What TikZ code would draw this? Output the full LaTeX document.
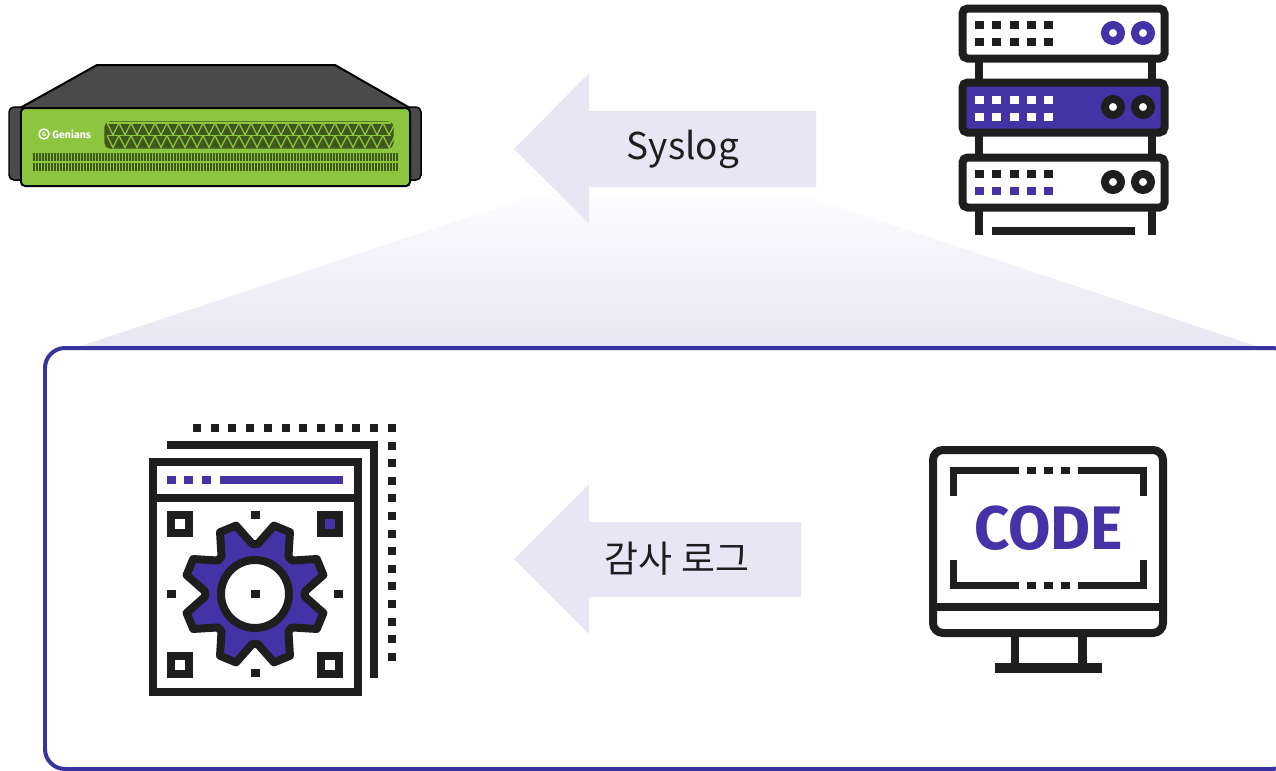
\documentclass[tikz,border=0pt]{standalone}
\usepackage{fontspec}
\setmainfont{Noto Sans CJK KR}
\newfontfamily\codefont{Fira Sans}
\usetikzlibrary{arrows.meta}

\definecolor{iconink}{HTML}{1E1E1E}
\definecolor{iconviolet}{HTML}{4433A6}
\definecolor{framebl}{HTML}{37349F}
\definecolor{arrowfill}{HTML}{E8E6F4}
\definecolor{casegreen}{HTML}{8CC63F}
\definecolor{casetop}{HTML}{4A4A4A}

\begin{document}
\begin{tikzpicture}[x=0.02cm, y=-0.02cm,
  ink/.style={draw=iconink, line width=0.16cm},
  dot/.style={fill=iconink},
  tag/.style={font=\fontsize{21}{24}\selectfont, text=iconink, inner sep=0pt},
  vent/.style={draw=casegreen!45!black, line width=0.024cm}]
\useasboundingbox (0,0) rectangle (1276,771);
\fill[white] (0,0) rectangle (1276,771);

% fan-out from the top arrow down to the frame
\shade[top color=arrowfill!10, bottom color=arrowfill] (541,193) -- (797,193) -- (1262,348) -- (75,348) -- cycle;

% arrows with their labels
\fill[arrowfill] (514,149) -- (589,73) -- (589,111) -- (816,111) -- (816,187) -- (589,187) -- (589,223) -- cycle;
\node[tag] (syslog) at (683,149) {Syslog};
\fill[arrowfill] (514,559) -- (589,484) -- (589,522) -- (801,522) -- (801,597) -- (589,597) -- (589,634) -- cycle;
\node[tag] (audit) at (677,559) {감사 로그};

% frame
\draw[framebl, line width=0.08cm, rounded corners=0.4cm] (45,348) rectangle (1292,769);

% appliance (top left)
\filldraw[fill=casetop, draw=black, line width=0.04cm, line join=round] (97,65) -- (335,65) -- (410,108) -- (20,108) -- cycle;
\filldraw[fill=casetop, draw=black, line width=0.03cm, rounded corners=0.1cm] (9,107) rectangle (25,180); % left ear
\filldraw[fill=casetop, draw=black, line width=0.03cm, rounded corners=0.1cm] (405,107) rectangle (421,180); % right ear
\filldraw[fill=casegreen, draw=black, line width=0.04cm, rounded corners=0.08cm] (21,108) rectangle (410,186);
\filldraw[fill=casegreen!45!black, draw=casegreen!45!black, line width=0.024cm, rounded corners=0.1cm] (105,122) rectangle (393,148);
\foreach \r in {123,135.5} {
  \foreach \i in {0,...,23}
    \draw[vent, draw=casegreen] (107+12*\i,\r) -- (113+12*\i,\r+12) -- (119+12*\i,\r);
  \draw[vent, draw=casegreen] (107,\r) -- (391,\r);
}
\foreach \i in {0,...,121}
  \draw[vent] (34+3*\i,153) -- ++(0,8) (34+3*\i,163) -- ++(0,8);
\draw[white, line width=0.03cm] (44,134) circle (5);
\node[font=\codefont\bfseries\fontsize{3.5}{4}\selectfont, text=white, inner sep=0pt] (logo) at (44,134) {G};
\node[font=\codefont\bfseries\fontsize{6}{7}\selectfont, text=white, inner sep=0pt, anchor=west] (brand) at (52,134) {Genians};

% server rack (top right)
\foreach \x in {979,1152}
  \draw[ink] (\x,30) -- (\x,235);
\fill[dot] (992,227) rectangle (1135,235);
\foreach \y/\body/\ring in {8.5/white/iconviolet, 82.5/iconviolet/iconink, 157.5/white/iconink} {
  \filldraw[fill=\body, ink, rounded corners=0.1cm] (962.5,\y) rectangle (1164.5,\y+50);
  \foreach \cx in {1113,1143}
    \filldraw[fill=white, draw=\ring, line width=0.16cm] (\cx,\y+24.5) circle (8);
}
\foreach \c in {0,...,4} {
  \fill[dot] (975+17.3*\c,21) rectangle ++(9,8);
  \fill[dot] (975+17.3*\c,38) rectangle ++(9,8);
  \fill[white] (975+17.3*\c,96) rectangle ++(9,8);
  \fill[white] (975+17.3*\c,113) rectangle ++(9,8);
  \fill[dot] (975+17.3*\c,170) rectangle ++(9,8);
  \fill[iconviolet] (975+17.3*\c,187) rectangle ++(9,8);
}

% settings sheet (bottom left)
\foreach \k in {0,...,11}
  \fill[dot] (193+17.7*\k,424) rectangle ++(8,8);
\foreach \k in {1,...,13}
  \fill[dot] (388,424+17.6*\k) rectangle ++(8,8);
\draw[ink] (167,445) -- (374,445) -- (374,678);
\filldraw[fill=white, ink] (153,462) rectangle (358,692);
\draw[ink] (153,497.5) -- (358,497.5);
\foreach \x in {167,184,202}
  \fill[iconviolet] (\x,476) rectangle ++(9,8);
\fill[iconviolet] (220,476) rectangle (343,484);
\draw[ink] (171,515) rectangle (189,533);
\filldraw[fill=iconviolet, ink] (321,515) rectangle (339,533);
\draw[ink] (171,656) rectangle (189,674);
\draw[ink] (321,656) rectangle (339,674);
\foreach \p in {(251,511),(167,590),(334,590),(251,669)}
  \fill[dot] \p rectangle ++(9,8);
\begin{scope}[shift={(255,594)}]
  \filldraw[fill=iconviolet, ink, line join=round] (15.5:71)
    \foreach \a in {22.5,67.5,...,337.5} { -- (\a-7:71) -- (\a+7:71) -- (\a+19.5:50) -- (\a+25.5:50) } -- cycle;
  \filldraw[fill=white, ink] (0,0) circle (34);
  \fill[dot] (-4.5,-4) rectangle (4.5,4);
\end{scope}

% monitor (bottom right)
\filldraw[fill=white, ink, rounded corners=0.2cm] (933,450) rectangle (1163,633);
\draw[ink] (933,607) -- (1163,607);
\fill[dot] (1011,637) rectangle (1019,663);
\fill[dot] (1078,637) rectangle (1087,663);
\fill[dot] (995,663) rectangle (1102,673);
\draw[ink, line width=0.14cm] (953.5,496) -- (953.5,470.5) -- (1019,470.5);
\draw[ink, line width=0.14cm] (1078,470.5) -- (1143.5,470.5) -- (1143.5,496);
\draw[ink, line width=0.14cm] (953.5,560) -- (953.5,585.5) -- (1019,585.5);
\draw[ink, line width=0.14cm] (1143.5,560) -- (1143.5,585.5) -- (1078,585.5);
\foreach \x in {1027,1044,1061} {
  \fill[dot] (\x,467) rectangle ++(8.5,7);
  \fill[dot] (\x,582) rectangle ++(8.5,7);
}
\node[font=\codefont\bfseries\fontsize{35}{40}\selectfont, text=iconviolet, inner sep=0pt] (code) at (1048.5,528.5) {CODE};
\end{tikzpicture}
\end{document}
